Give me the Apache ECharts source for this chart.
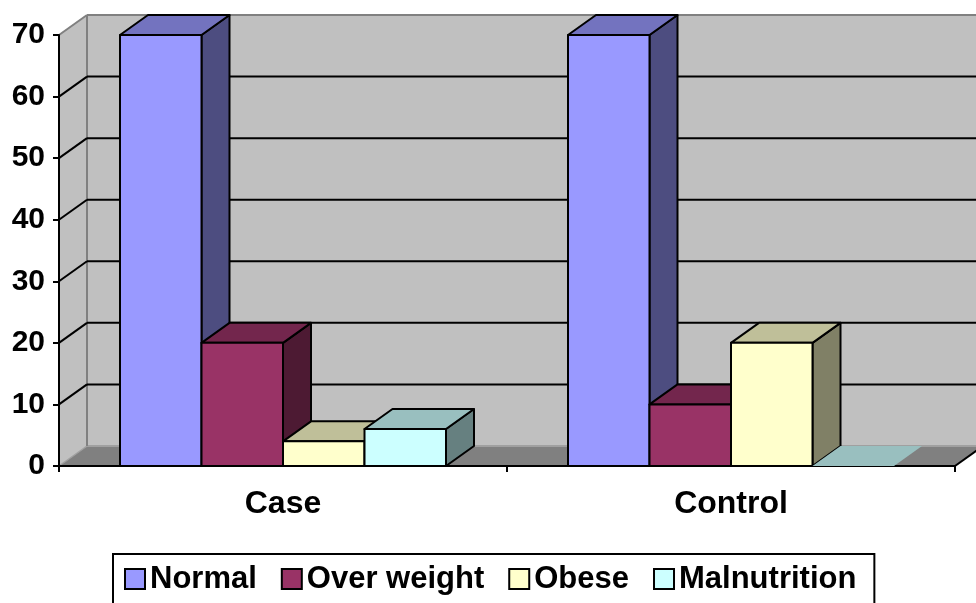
<!DOCTYPE html>
<html>
<head>
<meta charset="utf-8">
<script src="https://cdn.jsdelivr.net/npm/echarts@6/dist/echarts.min.js"></script>
<style>
html,body{margin:0;padding:0;background:#fff;}
#chart{width:976px;height:603px;}
</style>
</head>
<body>
<div id="chart"></div>
<script>
// ---- data ----
const categories = ['Case', 'Control'];
const seriesNames = ['Normal', 'Over weight', 'Obese', 'Malnutrition'];
const normal = [70, 70];
const overWeight = [20, 10];
const obese = [4, 20];
const malnutrition = [6, 0];
const yTicks = [0, 10, 20, 30, 40, 50, 60, 70];

// ---- styling ----
const frontColors = ['#9999FF', '#993366', '#FFFFCC', '#CCFFFF'];
const topColors   = ['#7373BF', '#73264D', '#BFBF99', '#99BFBF'];
const sideColors  = ['#4D4D80', '#4D1A33', '#808066', '#668080'];
const DX = 28, DY = -20;          // 3D depth offset
const BAR_FRAC = 81.5 / 448;      // bar width as fraction of category band
const FONT = '"Liberation Sans", Arial, sans-serif';

const values = [normal, overWeight, obese, malnutrition];
const yMax = yTicks[yTicks.length - 1];

function bgRender(params, api) {
  const cs = params.coordSys;
  const xL = cs.x, xR = cs.x + cs.width;
  const yB = api.coord([0, 0])[1];
  const yT = api.coord([0, yMax])[1];
  const ch = [];
  ch.push({type: 'rect', shape: {x: xL + DX, y: yT + DY, width: xR - xL + 10, height: yB - yT},
    style: {fill: '#C0C0C0', stroke: null}});
  ch.push({type: 'polygon', shape: {points: [[xL, yB], [xL, yT], [xL + DX, yT + DY], [xL + DX, yB + DY]]},
    style: {fill: '#C0C0C0', stroke: null}});
  ch.push({type: 'polygon', shape: {points: [[xL, yB], [xR, yB], [xR + DX, yB + DY], [xL + DX, yB + DY]]},
    style: {fill: '#808080', stroke: null}});
  ch.push({type: 'line', shape: {x1: xL, y1: yB, x2: xL + DX, y2: yB + DY}, style: {stroke: '#A0A0A0', lineWidth: 1.5}});
  ch.push({type: 'line', shape: {x1: xL + DX, y1: yB + DY, x2: xR + DX + 10, y2: yB + DY}, style: {stroke: '#A0A0A0', lineWidth: 2}});
  ch.push({type: 'line', shape: {x1: xL + DX, y1: yT + DY, x2: xL + DX, y2: yB + DY}, style: {stroke: '#808080', lineWidth: 2}});
  yTicks.forEach(function (v) {
    if (v === 0) return;
    const y = api.coord([0, v])[1];
    const col = v === yMax ? '#808080' : '#000';
    ch.push({type: 'line', shape: {x1: xL, y1: y, x2: xL + DX, y2: y + DY}, style: {stroke: col, lineWidth: 2}});
    ch.push({type: 'line', shape: {x1: xL + DX, y1: y + DY, x2: xR + DX + 10, y2: y + DY}, style: {stroke: col, lineWidth: 2}});
  });
  ch.push({type: 'line', shape: {x1: xR, y1: yB, x2: xR + DX, y2: yB + DY}, style: {stroke: '#000', lineWidth: 2}});
  return {type: 'group', children: ch};
}

function makeBarRender(i) {
  return function (params, api) {
    const ci = api.value(0), v = api.value(1);
    const base = api.coord([ci, 0]);
    const top = api.coord([ci, v]);
    const bw = api.size([1, 0])[0] * BAR_FRAC;
    const x = base[0] - 2 * bw + i * bw;
    const yb = base[1], yt = top[1];
    const ch = [];
    const st = {stroke: '#000', lineWidth: 2, lineJoin: 'round'};
    if (v > 0) {
      ch.push({type: 'polygon', shape: {points: [[x + bw, yt], [x + bw + DX, yt + DY], [x + bw + DX, yb + DY], [x + bw, yb]]},
        style: Object.assign({fill: sideColors[i]}, st)});
    }
    ch.push({type: 'polygon', shape: {points: [[x, yt], [x + bw, yt], [x + bw + DX, yt + DY], [x + DX, yt + DY]]},
      style: v > 0 ? Object.assign({fill: topColors[i]}, st) : {fill: topColors[i], stroke: null}});
    if (v > 0) {
      ch.push({type: 'rect', shape: {x: x, y: yt, width: bw, height: yb - yt},
        style: Object.assign({fill: frontColors[i]}, st)});
    }
    return {type: 'group', children: ch};
  };
}

const series = [{
  type: 'custom',
  name: '__bg',
  z: -1,
  clip: false,
  silent: true,
  renderItem: bgRender,
  data: [[0, 0]]
}];
seriesNames.forEach(function (n, i) {
  series.push({
    type: 'custom',
    name: n,
    z: 2,
    clip: false,
    itemStyle: {color: frontColors[i]},
    renderItem: makeBarRender(i),
    data: values[i].map(function (v, ci) { return [ci, v]; })
  });
});

const chart = echarts.init(document.getElementById('chart'), null, {renderer: 'canvas'});
chart.setOption({
  backgroundColor: '#fff',
  animation: false,
  grid: {left: 59, right: 21, top: 35, bottom: 137, containLabel: false},
  xAxis: {
    type: 'category',
    data: categories,
    boundaryGap: true,
    axisLine: {show: true, lineStyle: {color: '#000', width: 2}},
    axisTick: {show: true, length: 6, interval: 0, lineStyle: {color: '#000', width: 2}},
    axisLabel: {color: '#000', fontSize: 32, fontWeight: 'bold', fontFamily: FONT, margin: 22, interval: 0},
    splitLine: {show: false}
  },
  yAxis: {
    type: 'value',
    min: 0, max: yMax, interval: 10,
    axisLine: {show: true, lineStyle: {color: '#000', width: 2}},
    axisTick: {show: true, length: 6, lineStyle: {color: '#000', width: 2}},
    axisLabel: {color: '#000', fontSize: 30, fontWeight: 'bold', fontFamily: FONT, margin: 14},
    splitLine: {show: false}
  },
  legend: {
    data: seriesNames,
    left: 113, top: 554,
    padding: [9, 18, 9, 11],
    itemWidth: 20, itemHeight: 20, itemGap: 24,
    icon: 'rect',
    borderColor: '#000', borderWidth: 2, borderRadius: 0,
    itemStyle: {borderColor: '#000', borderWidth: 2},
    textStyle: {color: '#000', fontSize: 31, fontWeight: 'bold', fontFamily: FONT, lineHeight: 32}
  },
  series: series
});
</script>
</body>
</html>
